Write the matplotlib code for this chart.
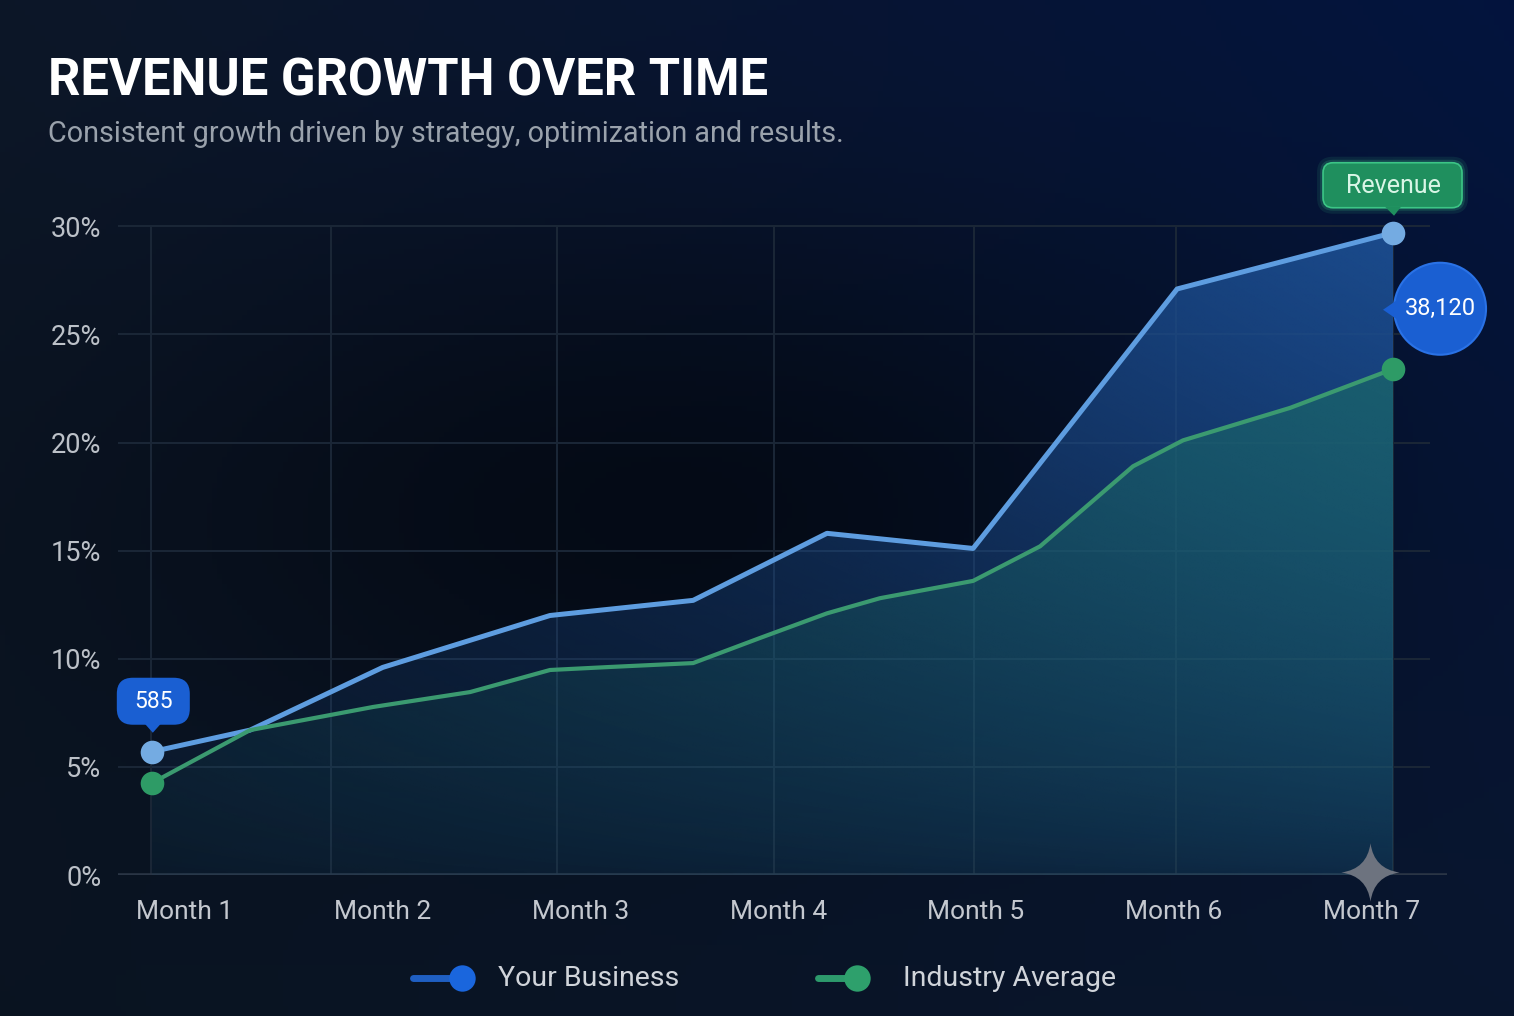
import numpy as np
import matplotlib
matplotlib.use("Agg")
import matplotlib.pyplot as plt
from matplotlib.path import Path
from matplotlib.lines import Line2D
from matplotlib.patches import FancyBboxPatch, Polygon, Circle
from matplotlib.transforms import ScaledTranslation, Affine2D

# ---------------- data ----------------
months = ["Month 1", "Month 2", "Month 3", "Month 4", "Month 5", "Month 6", "Month 7"]
month_pos = [1, 2, 3, 4, 5, 6, 7]
y_ticks = [0, 5, 10, 15, 20, 25, 30]
y_tick_labels = ["0%", "5%", "10%", "15%", "20%", "25%", "30%"]
grid_x = [0.83, 1.74, 2.88, 3.98, 4.99, 6.01, 7.11]

biz_x = [0.832, 1.329, 2.00, 2.846, 3.570, 4.247, 4.986, 6.018, 7.110]
biz_y = [5.7, 6.7, 9.6, 12.0, 12.7, 15.8, 15.1, 27.1, 29.7]

ind_x = [0.832, 1.329, 1.951, 2.442, 2.846, 3.150, 3.570, 3.908, 4.247,
         4.515, 4.986, 5.325, 5.795, 6.048, 6.589, 7.110]
ind_y = [4.25, 6.7, 7.77, 8.46, 9.48, 9.62, 9.80, 10.96, 12.1,
         12.8, 13.6, 15.2, 18.9, 20.1, 21.6, 23.4]

series_names = ["Your Business", "Industry Average"]
start_label = "585"
end_label = "38,120"
tag_label = "Revenue"
title = "REVENUE GROWTH OVER TIME"
subtitle = "Consistent growth driven by strategy, optimization and results."

# ---------------- style ----------------
FONT = "Roboto"
BLUE_LINE = "#5e9de0"
GREEN_LINE = "#3b9a70"
GRID = "#1b2737"
BUBBLE = "#1a5fd2"

W, H = 1514, 1016
fig = plt.figure(figsize=(W / 100, H / 100), dpi=100)

# background gradient
bg = fig.add_axes([0, 0, 1, 1])
bg.set_axis_off()
yy, xx = np.mgrid[0:1:200j, 0:1:300j]
tl = np.array([13, 23, 40]); tr = np.array([3, 20, 62])
bl = np.array([10, 20, 33]); br = np.array([9, 22, 46])
img = ((1 - xx)[..., None] * (1 - yy)[..., None] * tl + xx[..., None] * (1 - yy)[..., None] * tr
       + (1 - xx)[..., None] * yy[..., None] * bl + xx[..., None] * yy[..., None] * br)
dark = 1 - 0.5 * np.exp(-((xx - 0.45) / 0.38) ** 2 - ((yy - 0.5) / 0.28) ** 2)
img = img * dark[..., None] / 255.0
bg.imshow(img, extent=[0, 1, 0, 1], aspect="auto", origin="upper", zorder=0)
bg.set_xlim(0, 1); bg.set_ylim(0, 1)

ax = fig.add_axes([118 / W, 1 - 875 / H, (1447 - 118) / W, (875 - 183) / H])
ax.set_facecolor("none")
xmin, xmax = 0.661, 7.383
ax.set_xlim(xmin, xmax)
ax.set_ylim(0, 32)
for s in ax.spines.values():
    s.set_visible(False)

# grid
ax.vlines(grid_x, 0, 30, color=GRID, lw=1.4, zorder=1)
ax.hlines(y_ticks[1:], xmin, 7.297, color=GRID, lw=1.4, zorder=1)
ax.hlines(0, xmin, xmax, color="#2a3545", lw=2.6, zorder=1)


def gradient_fill(x, y, rgb, a_top, a_bot, a_left_scale, z):
    poly = ax.fill_between(x, y, 0, facecolor="none", edgecolor="none")
    gy, gx = np.mgrid[1:0:100j, 0:1:100j]
    alpha = (a_bot + (a_top - a_bot) * gy ** 0.8) * (a_left_scale + (1 - a_left_scale) * gx)
    arr = np.zeros((100, 100, 4))
    arr[..., :3] = np.array(rgb) / 255.0
    arr[..., 3] = np.clip(alpha, 0, 1)
    im = ax.imshow(arr, extent=[x[0], x[-1], 0, 30], aspect="auto", origin="upper",
                   zorder=z, interpolation="bilinear")
    im.set_clip_path(poly.get_paths()[0], transform=ax.transData)


gradient_fill(biz_x, biz_y, (28, 78, 145), 0.95, 0.2, 0.3, 2)
gradient_fill(ind_x, ind_y, (26, 104, 104), 0.85, 0.15, 0.3, 3)

# lines
ax.plot(biz_x, biz_y, color=BLUE_LINE, lw=3.6, zorder=5, solid_joinstyle="round",
        solid_capstyle="round")
ax.plot(ind_x, ind_y, color=GREEN_LINE, lw=3.0, zorder=5, solid_joinstyle="round",
        solid_capstyle="round")

ax.plot([biz_x[0], biz_x[-1]], [biz_y[0], biz_y[-1]], "o", ms=17, color="#74abe2",
        mec="none", zorder=7)
ax.plot([ind_x[0], ind_x[-1]], [ind_y[0], ind_y[-1]], "o", ms=17, color="#2e9b66",
        mec="none", zorder=7)

# ticks
ax.set_xticks(month_pos, months)
ax.set_yticks(y_ticks, y_tick_labels)
ax.tick_params(axis="x", length=0, pad=18, labelsize=19, labelcolor="#c4c8cf")
ax.tick_params(axis="y", length=0, pad=12, labelsize=19.5, labelcolor="#bcc1c8")
for lab in ax.get_xticklabels() + ax.get_yticklabels():
    lab.set_fontfamily(FONT)


def at_point(x, y):
    """pixel-unit transform anchored on a data point"""
    return Affine2D() + ScaledTranslation(x, y, ax.transData)


# "585" bubble above first point
t0 = at_point(biz_x[0], biz_y[0])
ax.add_patch(FancyBboxPatch((-35, 27), 73, 47, boxstyle="round,pad=0,rounding_size=16",
                            fc=BUBBLE, ec="none", transform=t0, zorder=8, clip_on=False))
ax.add_patch(Polygon([(-7, 28), (9, 28), (1, 19)], closed=True, fc=BUBBLE, ec="none",
                     transform=t0, zorder=8, clip_on=False))
ax.annotate(start_label, xy=(biz_x[0], biz_y[0]), xytext=(2 * 0.72, 50 * 0.72),
            textcoords="offset points", ha="center", va="center", fontsize=16.5,
            color="white", family=FONT, zorder=9)

# "Revenue" tag above last point
t1 = at_point(biz_x[-1], biz_y[-1])
for grow, a in [(6, 0.10), (3, 0.18)]:
    ax.add_patch(FancyBboxPatch((-70 - grow, 25 - grow), 139 + 2 * grow, 45 + 2 * grow,
                                boxstyle="round,pad=0,rounding_size=%d" % (10 + grow),
                                fc="#3fd68f", ec="none", alpha=a, transform=t1,
                                zorder=8, clip_on=False))
ax.add_patch(FancyBboxPatch((-70, 25), 139, 45, boxstyle="round,pad=0,rounding_size=10",
                            fc="#1f8f5e", ec="#3cc586", lw=1.2, transform=t1, zorder=8,
                            clip_on=False))
ax.add_patch(Polygon([(-8, 26), (8, 26), (1, 17)], closed=True, fc="#1f8f5e", ec="none",
                     transform=t1, zorder=8, clip_on=False))
ax.annotate(tag_label, xy=(biz_x[-1], biz_y[-1]), xytext=(0, 47 * 0.72),
            textcoords="offset points", ha="center", va="center", fontsize=18,
            color="#d9f5e6", family=FONT, zorder=9)

# "38,120" circle with pointer to the left
ax.add_patch(Circle((47, -76), 46, fc=BUBBLE, ec="#2a72e6", lw=1.5, transform=t1,
                    zorder=8, clip_on=False))
ax.add_patch(Polygon([(-10, -77), (6, -66), (6, -88)], closed=True, fc=BUBBLE, ec="none",
                     transform=t1, zorder=8, clip_on=False))
ax.annotate(end_label, xy=(biz_x[-1], biz_y[-1]), xytext=(47 * 0.72, -76 * 0.72),
            textcoords="offset points", ha="center", va="center", fontsize=17,
            color="white", family=FONT, zorder=9)

# titles
fig.text(48 / W, 1 - 95 / H, title, fontsize=36.5, fontweight="bold", color="white",
         family=FONT, ha="left", va="baseline")
fig.text(48 / W, 1 - 142 / H, subtitle, fontsize=20.7, color="#9aa2ac",
         family=FONT, ha="left", va="baseline")

# legend
ly = 1 - 978 / H
fig.add_artist(Line2D([413 / W, 458 / W], [ly, ly], color="#1f5fc2", lw=5,
                      solid_capstyle="round"))
fig.add_artist(Line2D([462 / W], [ly], marker="o", ms=19, color="#1a66dd", mec="none"))
fig.text(498 / W, ly, series_names[0], fontsize=20.5, color="#d0d4da", family=FONT,
         ha="left", va="center")
fig.add_artist(Line2D([818 / W, 862 / W], [ly, ly], color="#2d9a6c", lw=5,
                      solid_capstyle="round"))
fig.add_artist(Line2D([857 / W], [ly], marker="o", ms=19, color="#2ea06c", mec="none"))
fig.text(903 / W, ly, series_names[1], fontsize=20.5, color="#d0d4da", family=FONT,
         ha="left", va="center")

# sparkle decoration
c = 0.12
star = Path([(0, 1), (c, c), (1, 0), (c, -c), (0, -1), (-c, -c), (-1, 0), (-c, c), (0, 1)],
            [Path.MOVETO, Path.CURVE3, Path.CURVE3, Path.CURVE3, Path.CURVE3,
             Path.CURVE3, Path.CURVE3, Path.CURVE3, Path.CURVE3])
fig.add_artist(Line2D([1370 / W], [1 - 872 / H], marker=star, ms=42, color="#6d737f",
                      mec="none"))

fig.savefig("out.png", dpi=100, facecolor="#0b1626")
